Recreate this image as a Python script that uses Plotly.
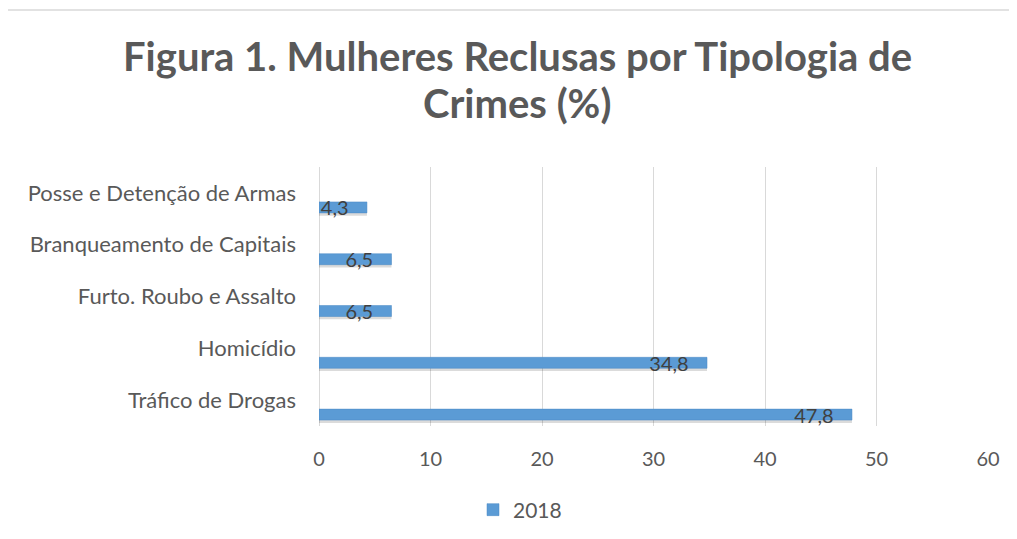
import plotly.graph_objects as go

categories = ["Tráfico de Drogas", "Homicídio", "Furto. Roubo e Assalto",
              "Branqueamento de Capitais", "Posse e Detenção de Armas"]
values_2018 = [47.8, 34.8, 6.5, 6.5, 4.3]
series_name = "2018"
x_ticks = [0, 10, 20, 30, 40, 50, 60]
title_line1 = "Figura 1. Mulheres Reclusas por Tipologia de"
title_line2 = "Crimes (%)"

FONT = "Lato"
GRAY = "#595959"

W, H = 1017, 539
OFF = 8  # page body margin: screen = figure + OFF

# plot area in screen pixels
L, R, T, B = 319, 988, 167, 426
Lf, Rf, Tf, Bf = L - OFF, R - OFF, T - OFF, B - OFF
pw, ph = R - L, B - T


def px(x):
    return (x - L) / pw


def py(y):
    return (B - y) / ph


fig = go.Figure()

# soft shadow under bars
fig.add_trace(go.Bar(
    y=categories, x=values_2018, orientation="h",
    offset=-0.44, width=0.212,
    marker=dict(color="rgba(0,0,0,0.14)", line=dict(width=0)),
    showlegend=False, hoverinfo="skip",
))

fig.add_trace(go.Bar(
    y=categories, x=values_2018, orientation="h", name=series_name,
    offset=-0.386, width=0.212,
    marker=dict(color="#5B9BD5", line=dict(color="#4A89C4", width=0.5)),
    texttemplate="%{x:.1f}\u00a0\u00a0\u00a0", textposition="inside",
    insidetextanchor="end", constraintext="none",
    textfont=dict(family=FONT, size=20, color="#404040"),
    cliponaxis=False,
))

fig.update_layout(
    width=W, height=H,
    margin=dict(l=Lf, r=W - Rf, t=Tf, b=H - Bf),
    paper_bgcolor="white", plot_bgcolor="white",
    barmode="overlay",
    separators=",.",
    font=dict(family=FONT, color=GRAY, size=16),
    showlegend=True,
    legend=dict(orientation="h", x=px(473), xanchor="left",
                y=py(510), yanchor="middle",
                font=dict(family=FONT, size=21, color=GRAY),
                itemwidth=30, bgcolor="rgba(0,0,0,0)"),
    xaxis=dict(range=[0, 60], tickvals=x_ticks, showgrid=True,
               gridcolor="#D9D9D9", gridwidth=1.2, zeroline=True,
               zerolinecolor="#D9D9D9", zerolinewidth=1.2,
               showline=False, ticks="", ticklabelstandoff=19,
               tickfont=dict(family=FONT, size=20, color=GRAY)),
    yaxis=dict(type="category", categoryorder="array", categoryarray=categories,
               range=[-0.5, 4.5], showgrid=False, zeroline=False,
               showline=False, ticks="", ticklabelstandoff=22,
               tickfont=dict(family=FONT, size=22, color=GRAY)),
    annotations=[
        dict(text="<b>" + title_line1 + "</b>", xref="paper", yref="paper",
             x=px(517), y=py(55.5), xanchor="center", yanchor="middle",
             showarrow=False, font=dict(family=FONT, size=40, color=GRAY)),
        dict(text="<b>" + title_line2 + "</b>", xref="paper", yref="paper",
             x=px(517), y=py(103.5), xanchor="center", yanchor="middle",
             showarrow=False, font=dict(family=FONT, size=40, color=GRAY)),
    ],
    shapes=[
        dict(type="line", xref="paper", yref="paper",
             x0=px(7), x1=px(1040), y0=py(10), y1=py(10),
             line=dict(color="#D9D9D9", width=1.5)),
        dict(type="line", xref="paper", yref="paper",
             x0=px(7), x1=px(7), y0=py(10), y1=py(570),
             line=dict(color="#D9D9D9", width=1.5)),
    ],
)

fig.write_html("out.html")
